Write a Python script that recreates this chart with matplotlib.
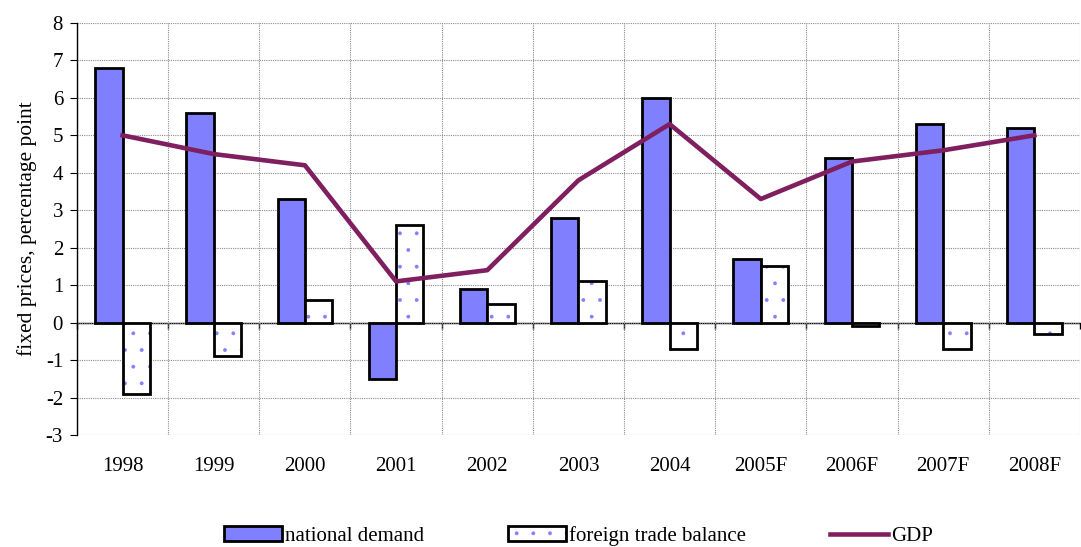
import matplotlib.pyplot as plt
import numpy as np

plt.rcParams['font.family'] = ['Liberation Serif', 'DejaVu Serif']
plt.rcParams['axes.unicode_minus'] = False
plt.rcParams['hatch.linewidth'] = 0.3

years = ['1998', '1999', '2000', '2001', '2002', '2003', '2004',
         '2005F', '2006F', '2007F', '2008F']
national_demand = [6.8, 5.6, 3.3, -1.5, 0.9, 2.8, 6.0, 1.7, 4.4, 5.3, 5.2]
trade_balance = [-1.9, -0.9, 0.6, 2.6, 0.5, 1.1, -0.7, 1.5, -0.1, -0.7, -0.3]
gdp = [5.0, 4.5, 4.2, 1.1, 1.4, 3.8, 5.3, 3.3, 4.3, 4.6, 5.0]

x = np.arange(len(years))
w = 0.3
fs = 15

fig = plt.figure(figsize=(10.81, 5.47), dpi=100)
ax = fig.add_axes([0.0712, 0.2048, 0.9278, 0.7532])

# grid first so bars sit on top
ax.set_axisbelow(True)
ax.set_xlim(-0.5, len(years) - 0.5)
ax.set_ylim(-3, 8)
ax.set_yticks(range(-3, 9))
ax.set_xticks(x, years)
ax.set_xticks(np.arange(-0.5, len(years)), minor=True)
ax.grid(True, which='major', axis='y', color='#8c8c8c', linestyle=(0, (1, 1)), linewidth=0.8)
ax.grid(True, which='minor', axis='x', color='#8c8c8c', linestyle=(0, (1, 1)), linewidth=0.8)

nd = ax.bar(x - w / 2, national_demand, w, color='#8080FF', edgecolor='black',
            linewidth=2, label='national demand')
# dotted fill in blue, then the black outline on top
dots = ax.bar(x + w / 2, trade_balance, w, color='white', edgecolor='#8080FF',
              linewidth=0, hatch='.')
tb = ax.bar(x + w / 2, trade_balance, w, fill=False, edgecolor='black',
            linewidth=2, label='foreign trade balance')
ln, = ax.plot(x, gdp, color='#7F1F5F', linewidth=3.3, label='GDP')

for s in ['top', 'right', 'bottom']:
    ax.spines[s].set_visible(False)
ax.spines['left'].set_linewidth(1)

ax.tick_params(axis='x', which='both', length=0, pad=16, labelsize=fs)
ax.tick_params(axis='y', direction='out', length=5, labelsize=fs, pad=5)

# zero line with category boundary ticks
zero = ax.secondary_xaxis(0, transform=ax.transData)
zero.set_xticks(np.arange(-0.5, len(years)), labels=[''] * (len(years) + 1))
zero.tick_params(direction='out', length=4, width=1)
zero.spines['bottom'].set_linewidth(1)

ax.set_ylabel('fixed prices, percentage point', fontsize=15.5, labelpad=6)

fig.legend(handles=[nd, (dots, tb), ln],
           labels=['national demand', 'foreign trade balance', 'GDP'],
           loc='center', bbox_to_anchor=(0.535, 0.02),
           ncol=3, frameon=False, fontsize=fs, handlelength=2.8, handleheight=0.7,
           columnspacing=4.0, handletextpad=0.15)

fig.savefig('out.png', dpi=100)
